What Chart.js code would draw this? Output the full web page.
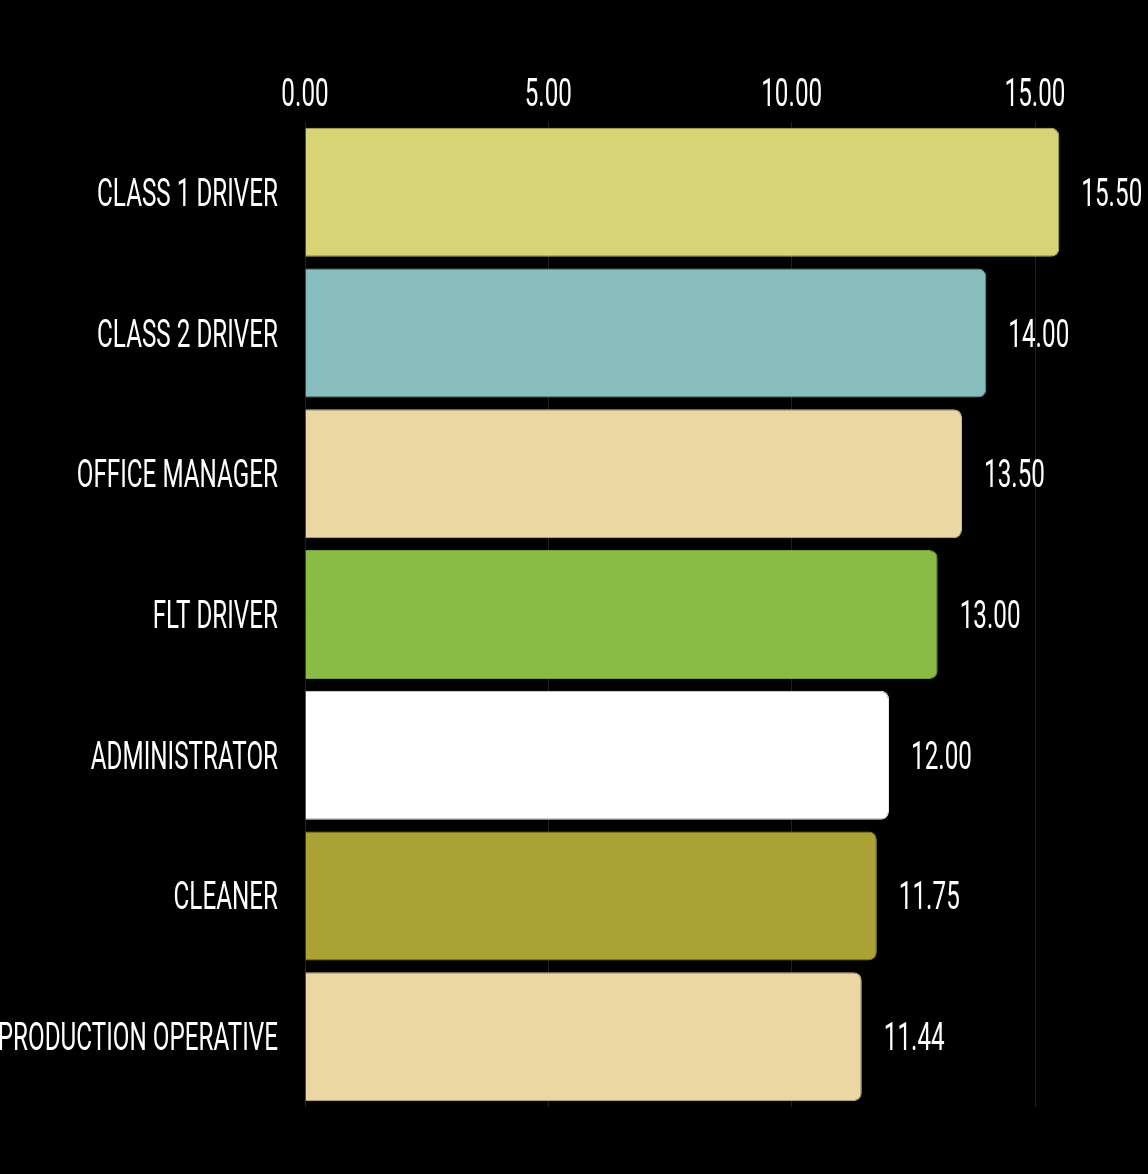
<!DOCTYPE html>
<html>
<head>
<meta charset="utf-8">
<script src="https://cdn.jsdelivr.net/npm/chart.js@4"></script>
<style>
  html, body { margin: 0; padding: 0; background: #000; }
  #wrap { width: 1148px; height: 1174px; }
</style>
</head>
<body>
<div id="wrap"><canvas id="c" width="1148" height="1174"></canvas></div>
<script>
const categories = ['CLASS 1 DRIVER', 'CLASS 2 DRIVER', 'OFFICE MANAGER', 'FLT DRIVER', 'ADMINISTRATOR', 'CLEANER', 'PRODUCTION OPERATIVE'];
const values = [15.50, 14.00, 13.50, 13.00, 12.00, 11.75, 11.44];
const tickValues = [0, 5, 10, 15];
const tickLabels = ['0.00', '5.00', '10.00', '15.00'];
const barColors = ['#D6D475', '#87BDBC', '#EAD7A3', '#8ABC45', '#FFFFFF', '#ABA235', '#EAD7A3'];
const barBorders = ['#B3B160', '#6F9E9D', '#C7B78A', '#739E39', '#E6E6E6', '#8E872B', '#C7B78A'];

const SX = 0.638;          // horizontal compression for condensed look
const FONT = '38px Roboto, "DejaVu Sans", sans-serif';
const CAP = 13.5;          // half cap height

function drawText(ctx, str, px, py, align) {
  const w = ctx.measureText(str).width * SX;
  const left = align === 'right' ? px - w : align === 'center' ? px - w / 2 : px;
  ctx.save();
  ctx.translate(left, py);
  ctx.scale(SX, 1);
  ctx.textAlign = 'left';
  ctx.fillText(str, 0, 0);
  ctx.restore();
}

const textPlugin = {
  id: 'condensedText',
  afterDraw(chart) {
    const { ctx, chartArea } = chart;
    const xs = chart.scales.x, ys = chart.scales.y;
    ctx.save();
    ctx.fillStyle = '#FFFFFF';
    ctx.font = FONT;
    ctx.textBaseline = 'alphabetic';
    tickValues.forEach((v, i) => {
      drawText(ctx, tickLabels[i], xs.getPixelForValue(v), chartArea.top - 16, 'center');
    });
    categories.forEach((c, i) => {
      const yc = ys.getPixelForValue(i);
      drawText(ctx, c, chartArea.left - 27, yc + CAP, 'right');
      drawText(ctx, values[i].toFixed(2), xs.getPixelForValue(values[i]) + 22, yc + CAP, 'left');
    });
    ctx.restore();
  }
};

new Chart(document.getElementById('c'), {
  type: 'bar',
  data: {
    labels: categories,
    datasets: [{
      data: values,
      backgroundColor: barColors,
      borderColor: barBorders,
      borderWidth: 1,
      borderSkipped: 'start',
      borderRadius: 8,
      barPercentage: 0.917,
      categoryPercentage: 1.0
    }]
  },
  options: {
    indexAxis: 'y',
    responsive: false,
    animation: false,
    devicePixelRatio: 1,
    layout: { padding: { left: 305, right: 64.3, top: 122, bottom: 67 } },
    plugins: { legend: { display: false }, tooltip: { enabled: false } },
    scales: {
      x: {
        position: 'top',
        min: 0,
        max: 16,
        afterBuildTicks(scale) {
          scale.ticks = tickValues.map(v => ({ value: v }));
        },
        ticks: { display: false },
        grid: { color: '#202020', lineWidth: 1, drawTicks: false },
        border: { display: false }
      },
      y: {
        display: false,
        grid: { display: false }
      }
    }
  },
  plugins: [textPlugin]
});
</script>
</body>
</html>
